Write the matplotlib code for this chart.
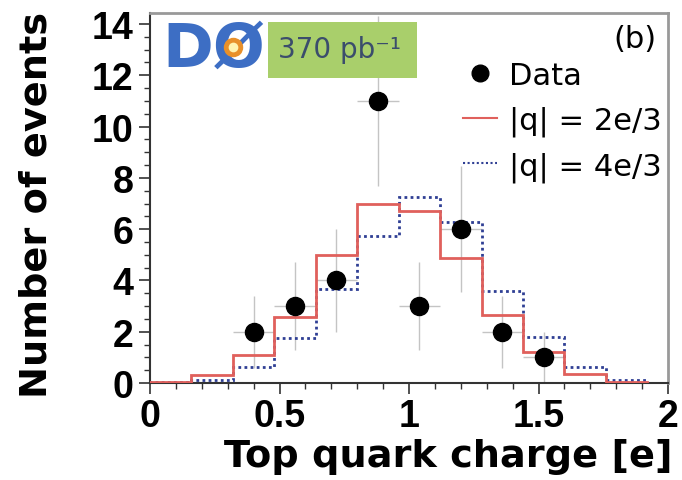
import matplotlib
matplotlib.use("Agg")
import matplotlib.pyplot as plt
from matplotlib.lines import Line2D
from matplotlib.patches import Rectangle

# ---- data ----
bin_edges = [0.0, 0.16, 0.32, 0.48, 0.64, 0.80, 0.96, 1.12, 1.28, 1.44, 1.60, 1.76, 1.92]
q23_counts = [0.04, 0.31, 1.09, 2.59, 4.98, 6.99, 6.71, 4.87, 2.66, 1.21, 0.34, 0.04]
q43_counts = [0.03, 0.11, 0.64, 1.74, 3.66, 5.74, 7.25, 6.28, 3.57, 1.81, 0.64, 0.11]
data_x = [0.40, 0.56, 0.72, 0.88, 1.04, 1.20, 1.36, 1.52]
data_y = [2, 3, 4, 11, 3, 6, 2, 1]
data_yerr = [1.41, 1.73, 2.00, 3.32, 1.73, 2.45, 1.41, 1.00]
data_xerr = [0.08] * 8
x_ticks = [0, 0.5, 1, 1.5, 2]
x_ticklabels = ["0", "0.5", "1", "1.5", "2"]
y_ticks = [0, 2, 4, 6, 8, 10, 12, 14]

RED = "#e0605c"
BLUE = "#2f3f94"

W, H = 682, 481
fig = plt.figure(figsize=(W / 100, H / 100), dpi=100)
L, R, B, T = 150, 668, 384, 14
ax = fig.add_axes([L / W, 1 - B / H, (R - L) / W, (B - T) / H])

ax.errorbar(data_x, data_y, yerr=data_yerr, xerr=data_xerr, fmt="none",
            ecolor="#c4c4c4", elinewidth=1.0, capsize=0, zorder=2)
ax.stairs(q43_counts, bin_edges, color=BLUE, lw=2.0, linestyle=(0, (1, 1.2)),
          baseline=0, zorder=3)
ax.stairs(q23_counts, bin_edges, color=RED, lw=2.0, baseline=0, zorder=4)
ax.plot(data_x, data_y, "o", color="black", ms=13, zorder=5)

ax.set_xlim(0, 2)
ax.set_ylim(0, 14.43)
ax.set_xticks(x_ticks)
ax.set_xticklabels(x_ticklabels)
ax.set_yticks(y_ticks)
ax.set_xticks([i * 0.1 for i in range(21)], minor=True)
ax.set_yticks([i * 0.5 for i in range(29)], minor=True)
ax.tick_params(axis="both", which="major", direction="out", length=8, width=1.2,
               color="#333333", labelsize=27, labelcolor="black")
ax.tick_params(axis="both", which="minor", direction="out", length=4.5, width=1.0,
               color="#333333")
ax.tick_params(axis="x", pad=3)
ax.tick_params(axis="y", pad=4)
ax.tick_params(top=False, right=False, which="both")
for lab in ax.get_xticklabels() + ax.get_yticklabels():
    lab.set_family("Liberation Sans")
    lab.set_fontweight("bold")

for s in ["left", "bottom"]:
    ax.spines[s].set_color("#333333")
    ax.spines[s].set_linewidth(1.5)
for s in ["top", "right"]:
    ax.spines[s].set_color("#999999")
    ax.spines[s].set_linewidth(2.0)

ax.set_xlabel("Top quark charge [e]", fontsize=27.5, fontweight="bold",
              family="DejaVu Sans", ha="right", va="baseline")
ax.xaxis.set_label_coords((673 - L) / (R - L), (B - 467) / (B - T))
ax.set_ylabel("Number of events", fontsize=27.5, fontweight="bold",
              family="DejaVu Sans", va="center")
ax.yaxis.set_label_coords((37 - L) / (R - L), (B - 205) / (B - T))

handles = [
    Line2D([], [], marker="o", color="black", ls="none", ms=12),
    Line2D([], [], color=RED, lw=1.5),
    Line2D([], [], color=BLUE, lw=1.5, linestyle=(0, (1, 1.2))),
]
labels = ["Data", "|q| = 2e/3", "|q| = 4e/3"]
ax.legend(handles, labels, loc="upper right", bbox_to_anchor=(662 / W, 1 - 62 / H),
          bbox_transform=fig.transFigure, frameon=False, fontsize=22,
          handlelength=1.1, handletextpad=0.4, labelspacing=0.5,
          borderpad=0, borderaxespad=0)

fig.text(656 / W, 1 - 40 / H, "(b)", fontsize=22, ha="right", va="center")

# luminosity box
fig.patches.append(Rectangle((268 / W, 1 - 78.5 / H), (417 - 268) / W, (78.5 - 23) / H,
                             transform=fig.transFigure, facecolor="#a9cf6b",
                             edgecolor="none", zorder=6))
fig.text(340 / W, 1 - 50 / H, "370 pb\u207b\u00b9", fontsize=20, color="#3b4d6c",
         ha="center", va="center", zorder=7)

# DØ logo
fig.text(214 / W, 1 - 50 / H, "DØ", fontsize=44, fontweight="bold", color="#3d6ec4",
         ha="center", va="center", zorder=7)
fig.add_artist(Line2D([233 / W], [1 - 48 / H], marker="o", ms=14, color="#e8902a",
                      mec="none", transform=fig.transFigure, zorder=8))
fig.add_artist(Line2D([233 / W], [1 - 48 / H], marker="o", ms=7, color="#fff3b0",
                      mec="none", transform=fig.transFigure, zorder=9))

fig.savefig("out.png", dpi=100)
